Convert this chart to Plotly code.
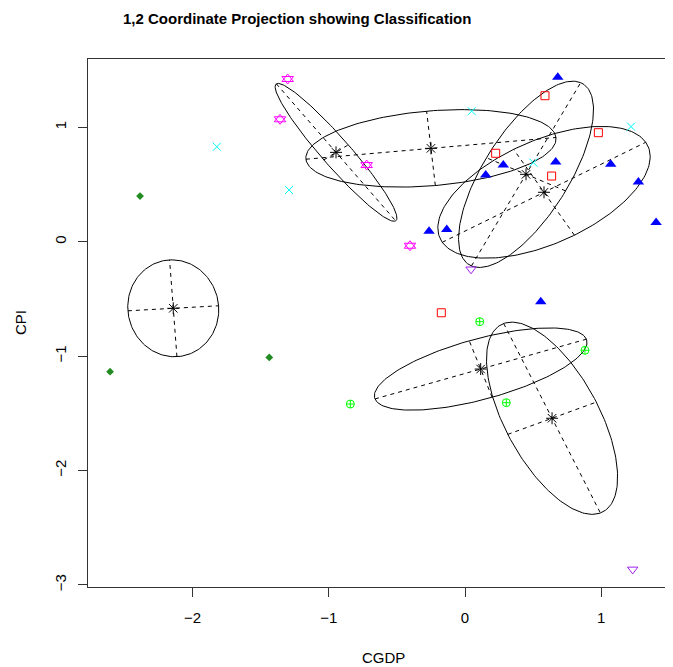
import numpy as np
import plotly.graph_objects as go

# ---- observations by class (CGDP, CPI) ----
c1_x = [-2.386, -2.606, -1.437]                      # forestgreen diamonds
c1_y = [0.399, -1.136, -1.011]
c2_x = [-1.822, -1.292, 0.049, 0.502, 1.219]          # cyan x
c2_y = [0.830, 0.452, 1.141, 0.691, 1.006]
c3_x = [-1.302, -1.358, -0.722, -0.404]               # magenta star of David
c3_y = [1.422, 1.070, 0.670, -0.035]
c4_x = [0.681, 0.281, 0.152, 0.666, 1.070, 1.273, 1.403, -0.264, -0.134, 0.556]  # blue triangles
c4_y = [1.438, 0.670, 0.583, 0.697, 0.677, 0.522, 0.168, 0.092, 0.107, -0.524]
c5_x = [0.587, 0.979, 0.225, 0.636, -0.174]           # red squares
c5_y = [1.276, 0.953, 0.773, 0.574, -0.621]
c6_x = [0.108, 0.881, -0.842, 0.303]                  # green circle-plus
c6_y = [-0.699, -0.949, -1.419, -1.407]
c7_x = [0.044, 1.231]                                 # purple down triangles
c7_y = [-0.241, -2.864]

# ---- component means and principal semi-axes (data units) ----
mean_x = [-2.142, -0.947, -0.250, 0.448, 0.580, 0.115, 0.639]
mean_y = [-0.582, 0.781, 0.816, 0.589, 0.432, -1.113, -1.543]
major_dx = [0.333, 0.438, 0.918, 0.401, 0.747, 0.776, 0.355]
major_dy = [0.022, -0.599, 0.095, 0.801, 0.437, 0.261, -0.828]
minor_dx = [-0.027, 0.090, -0.032, -0.291, -0.223, -0.084, 0.325]
minor_dy = [0.423, 0.066, 0.325, 0.145, 0.375, 0.247, 0.141]

x_ticks = [-2, -1, 0, 1]
y_ticks = [-3, -2, -1, 0, 1]

fig = go.Figure()

# ellipses and their axes
t = np.linspace(0, 2 * np.pi, 200)
for i in range(len(mean_x)):
    cx, cy = mean_x[i], mean_y[i]
    ax_, ay_ = major_dx[i], major_dy[i]
    bx_, by_ = minor_dx[i], minor_dy[i]
    ex = cx + ax_ * np.cos(t) + bx_ * np.sin(t)
    ey = cy + ay_ * np.cos(t) + by_ * np.sin(t)
    fig.add_trace(go.Scatter(x=ex, y=ey, mode="lines",
                             line=dict(color="black", width=1), hoverinfo="skip"))
    fig.add_trace(go.Scatter(x=[cx - ax_, cx + ax_, None, cx - bx_, cx + bx_],
                             y=[cy - ay_, cy + ay_, None, cy - by_, cy + by_],
                             mode="lines",
                             line=dict(color="black", width=1, dash="4px,4px"),
                             hoverinfo="skip"))

def pts(x, y, symbol, color, size, lw=1):
    fig.add_trace(go.Scatter(x=x, y=y, mode="markers",
                             marker=dict(symbol=symbol, color=color, size=size,
                                         line=dict(color=color, width=lw))))

pts(c1_x, c1_y, "diamond", "#228B22", 6, 0)
pts(c2_x, c2_y, "x-thin-open", "#00FFFF", 8)
pts(c3_x, c3_y, "triangle-up-open", "#FF00FF", 10)
pts(c3_x, c3_y, "triangle-down-open", "#FF00FF", 10)
pts(c4_x, c4_y, "triangle-up", "#0000FF", 10, 0)
pts(c5_x, c5_y, "square-open", "#FF0000", 8)
pts(c6_x, c6_y, "circle-cross-open", "#00FF00", 8)
pts(c7_x, c7_y, "triangle-down-open", "#A020F0", 9)
pts(mean_x, mean_y, "asterisk-open", "black", 10)

# page body has an 8px margin: figure is sized/offset to compensate
W, H, L, T, B = 665, 659, 80, 51, 80
PW = W - L

fig.update_layout(
    width=W, height=H,
    margin=dict(l=L, r=0, t=T, b=B),
    paper_bgcolor="white", plot_bgcolor="white",
    showlegend=False,
    font=dict(family="Liberation Sans, Arial, sans-serif", size=15, color="black"),
    xaxis=dict(range=[-2.768, 1.527], tickvals=x_ticks, showgrid=False, zeroline=False,
               showline=True, mirror=True, linecolor="#333", linewidth=1,
               ticks="outside", ticklen=9, tickcolor="#333",
               ticklabelstandoff=8, tickfont=dict(size=15)),
    yaxis=dict(range=[-3.018, 1.597], tickvals=y_ticks, showgrid=False, zeroline=False,
               showline=True, mirror=False, linecolor="#333", linewidth=1,
               ticks="outside", ticklen=9, tickcolor="#333", tickangle=-90,
               ticklabelstandoff=6, tickfont=dict(size=15)),
    annotations=[
        dict(text="<b>1,2 Coordinate Projection showing Classification</b>",
             xref="paper", yref="paper", x=(289 - L) / PW, y=1, yshift=41,
             showarrow=False, font=dict(size=15), xanchor="center", yanchor="middle"),
        dict(text="CGDP", xref="paper", yref="paper", x=(375 - L) / PW, y=0,
             yshift=-70, showarrow=False, font=dict(size=15),
             xanchor="center", yanchor="middle"),
        dict(text="CPI", xref="paper", yref="paper", x=0, xshift=-68, y=0.5,
             showarrow=False, font=dict(size=15), textangle=-90,
             xanchor="center", yanchor="middle"),
    ],
)

fig.write_html("out.html")
